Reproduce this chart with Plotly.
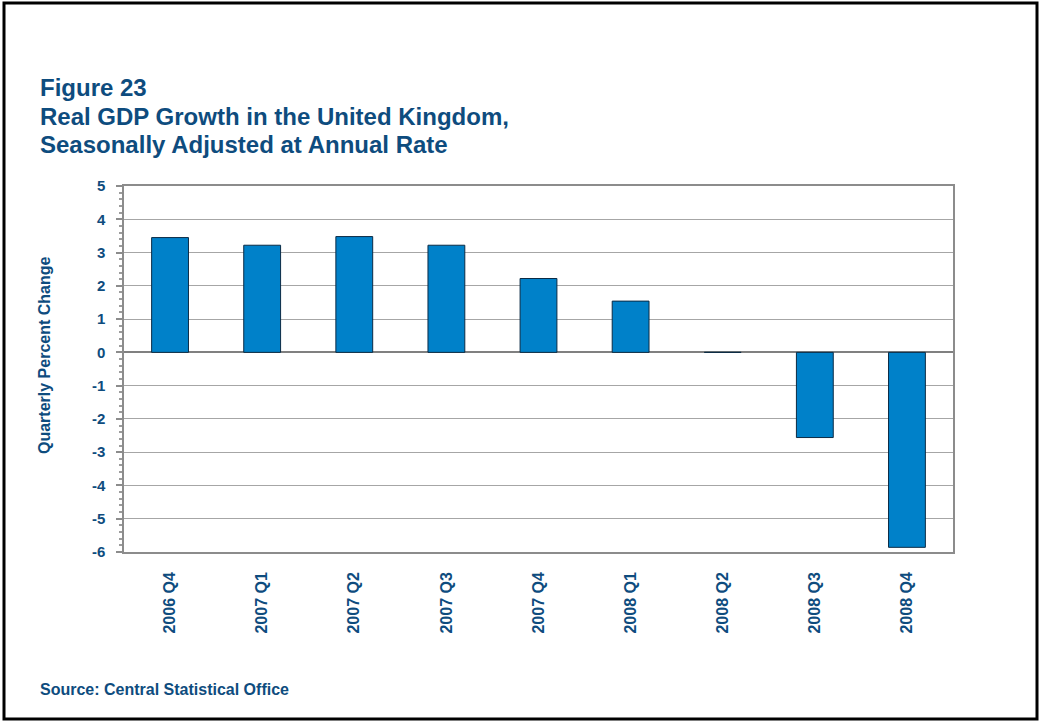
import plotly.graph_objects as go

# Quarterly real GDP growth, UK (seasonally adjusted annual rate, %)
quarters = ["2006 Q4", "2007 Q1", "2007 Q2", "2007 Q3", "2007 Q4",
            "2008 Q1", "2008 Q2", "2008 Q3", "2008 Q4"]
growth = [3.45, 3.22, 3.48, 3.22, 2.22, 1.54, 0.0, -2.56, -5.86]
y_ticks = [5, 4, 3, 2, 1, 0, -1, -2, -3, -4, -5, -6]

TEXT = "#0E4C7E"
FONT = "Liberation Sans, Arial, sans-serif"
W, H = 1041, 721
L, R, T, B = 124, 88, 186, 169
PW, PH = W - L - R, H - T - B

def px(x):
    return (x - L) / PW

def py(y):
    return (H - B - y) / PH

def bold(s):
    return f"<b>{s}</b>"

positions = list(range(len(quarters)))

fig = go.Figure()
fig.add_trace(go.Bar(
    x=positions, y=growth, width=0.4,
    marker=dict(color="#0081C9", line=dict(color="#0B2B45", width=1)),
    hoverinfo="x+y",
))

fig.update_layout(
    width=W, height=H,
    margin=dict(l=L, r=R, t=T, b=B, pad=0),
    paper_bgcolor="white", plot_bgcolor="white",
    showlegend=False,
    font=dict(family=FONT, color=TEXT),
    xaxis=dict(
        range=[-0.5, len(quarters) - 0.5],
        tickvals=positions, ticktext=[bold(q) for q in quarters],
        tickangle=-90, ticks="", showgrid=False, zeroline=False,
        tickfont=dict(family=FONT, size=16, color=TEXT),
        showline=True, mirror=True, linecolor="#8C8C8C", linewidth=1.5,
        ticklabelstandoff=12,
    ),
    xaxis2=dict(
        overlaying="x", matches="x", anchor="free", position=6 / 11,
        tickvals=[p + 0.5 for p in positions[:-1]],
        ticks="outside", ticklen=4, tickcolor="#A8A8A8", tickwidth=1.5,
        showticklabels=False, showgrid=False, zeroline=False, showline=False,
    ),
    yaxis=dict(
        range=[-6, 5], tickvals=y_ticks,
        ticktext=[bold(str(v)) for v in y_ticks],
        ticks="outside", ticklen=6, tickcolor="#8C8C8C", tickwidth=1.5,
        minor=dict(dtick=0.2, ticks="outside", ticklen=3,
                   tickcolor="#9C9C9C", showgrid=False),
        tickfont=dict(family=FONT, size=15, color=TEXT),
        showgrid=True, gridcolor="#A6A6A6", gridwidth=1,
        zeroline=True, zerolinecolor="#808080", zerolinewidth=2,
        showline=True, mirror=True, linecolor="#8C8C8C", linewidth=1.5,
        ticklabelstandoff=8,
    ),
)

title_lines = [
    ("Figure 23", 87),
    ("Real GDP Growth in the United Kingdom,", 116),
    ("Seasonally Adjusted at Annual Rate", 144),
]
for text, yc in title_lines:
    fig.add_annotation(
        x=px(38), y=py(yc), xref="paper", yref="paper",
        xanchor="left", yanchor="middle", showarrow=False, text=bold(text),
        font=dict(family=FONT, size=24, color=TEXT),
    )

fig.add_annotation(
    x=px(44), y=py(355), xref="paper", yref="paper",
    xanchor="center", yanchor="middle", showarrow=False, textangle=-90,
    text=bold("Quarterly Percent Change"),
    font=dict(family=FONT, size=16, color=TEXT),
)

fig.add_annotation(
    x=px(38), y=py(689), xref="paper", yref="paper",
    xanchor="left", yanchor="middle", showarrow=False,
    text=bold("Source: Central Statistical Office"),
    font=dict(family=FONT, size=16, color=TEXT),
)

# page frame
fig.add_shape(
    type="rect", xref="paper", yref="paper",
    x0=px(4), x1=px(1037), y0=py(719), y1=py(3),
    line=dict(color="black", width=3), fillcolor="rgba(0,0,0,0)",
)

fig.write_html("out.html")
